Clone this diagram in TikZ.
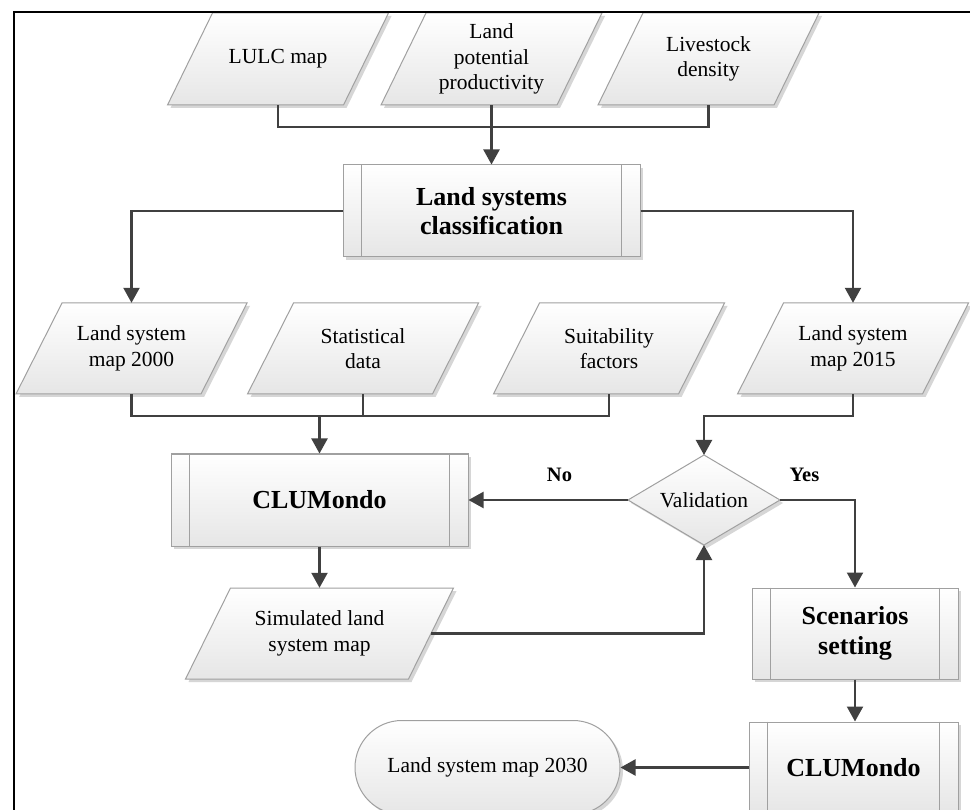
\documentclass[tikz,border=0pt]{standalone}
\usepackage{fontspec}
\setmainfont{Liberation Serif}
\usetikzlibrary{arrows.meta,shapes.geometric,calc}
\definecolor{linec}{HTML}{404040}
\definecolor{bordc}{HTML}{A0A0A0}
\definecolor{shadc}{HTML}{D6D6D6}
\definecolor{fillb}{HTML}{E6E6E6}
\tikzset{
  conn/.style={draw=linec, line width=2.2pt},
  arr/.style={conn, -{Triangle[length=15pt,width=16pt]}},
  shapefill/.style={top color=white, bottom color=fillb, draw=bordc, line width=1pt},
  shadowfill/.style={fill=shadc},
  txt/.style={inner sep=0pt, align=center, font=\fontsize{21.5}{25.5}\selectfont},
  btxt/.style={inner sep=0pt, align=center, font=\fontsize{26}{29.5}\selectfont\bfseries},
  ltxt/.style={inner sep=0pt, font=\fontsize{20.5}{24}\selectfont\bfseries},
}
\newcommand\DataBox[7]{%
  \path[shadowfill, shift={(3,3)}] ({#2-#4/2+#6/2},{#3-#5/2}) -- ({#2+#4/2+#6/2},{#3-#5/2}) -- ({#2+#4/2-#6/2},{#3+#5/2}) -- ({#2-#4/2-#6/2},{#3+#5/2}) -- cycle;
  \path[shapefill] ({#2-#4/2+#6/2},{#3-#5/2}) -- ({#2+#4/2+#6/2},{#3-#5/2}) -- ({#2+#4/2-#6/2},{#3+#5/2}) -- ({#2-#4/2-#6/2},{#3+#5/2}) -- cycle;
  \node[txt, minimum width=#4, minimum height=#5] (#1) at (#2,#3) {#7};
}
\newcommand\ProcBox[6]{%
  \fill[shadc] ({#2-#4/2+3},{#3-#5/2+3}) rectangle ({#2+#4/2+3},{#3+#5/2+3});
  \node[btxt, shapefill, minimum width=#4, minimum height=#5] (#1) at (#2,#3) {#6};
  \draw[bordc, line width=1pt] ([xshift=19pt]#1.north west) -- ([xshift=19pt]#1.south west)
    ([xshift=-19pt]#1.north east) -- ([xshift=-19pt]#1.south east);
}
\begin{document}
\begin{tikzpicture}[x=1pt,y=-1pt]
\useasboundingbox (0,0) rectangle (970,810);
\fill[white] (0,0) rectangle (970,810);

\DataBox{LULC}{278}{59}{176}{92}{45}{LULC map}
\DataBox{LPP}{491.5}{59}{176}{92}{45}{Land\\potential\\productivity}
\DataBox{LD}{708.5}{59}{176}{92}{45}{Livestock\\density}
\ProcBox{LSC}{491.5}{211}{297}{92}{Land systems\\classification}
\DataBox{M2000}{131.5}{348.5}{185}{91}{46}{Land system\\map 2000}
\DataBox{SD}{363}{348.5}{185}{91}{46}{Statistical\\data}
\DataBox{SF}{609}{348.5}{185}{91}{46}{Suitability\\factors}
\DataBox{M2015}{853}{348.5}{185}{91}{46}{Land system\\map 2015}
\ProcBox{CLU1}{319.5}{500}{297}{92}{CLUMondo}

\fill[shadc] (707,458) -- (783,503) -- (707,548) -- (631,503) -- cycle;
\path[shapefill] (704,455) -- (780,500) -- (704,545) -- (628,500) -- cycle;
\node[txt, minimum width=152, minimum height=90, outer sep=0pt] (VAL) at (704,500) {Validation};

\DataBox{SIM}{319.5}{633.5}{223}{91}{45}{Simulated land\\system map}
\ProcBox{SCN}{855}{633.5}{206}{91}{Scenarios\\setting}
\ProcBox{CLU2}{853.5}{767.5}{209}{91}{CLUMondo}

\fill[shadc, rounded corners=47] (358,723.5) rectangle (623,817.5);
\node[shapefill, txt, rectangle, rounded corners=47, minimum width=265, minimum height=94] (OUT) at (487.5,767.5) {Land system map 2030};

\coordinate (j1) at (491.5,127);
\coordinate (j2) at (319.5,416);

\draw[conn] (LULC.south) |- (j1) -| (LD.south);
\draw[arr] (LPP.south) -- (LSC.north);
\draw[arr] (LSC.west) -| (M2000.north);
\draw[arr] (LSC.east) -| (M2015.north);
\draw[conn] (M2000.south) |- (j2) -| (SF.south);
\draw[conn] (SD.south) -- (SD.south |- j2);
\draw[arr] (j2) -- (CLU1.north);
\draw[arr] (M2015.south) -- ++(0,22) -| (VAL.north);
\draw[arr] (VAL.west) -- (CLU1.east);
\draw[arr] (VAL.east) -| (SCN.north);
\draw[arr] (CLU1.south) -- (SIM.north);
\draw[arr] (SIM.east) -| (VAL.south);
\draw[arr] (SCN.south) -- (SCN.south |- CLU2.north);
\draw[arr] (CLU2.west) -- (OUT.east);

\node[ltxt] (no) at (559.5,475) {No};
\node[ltxt] (yes) at (804.5,475) {Yes};

\draw[line width=2.5pt, black] (14,830) -- (14,12) -- (990,12);
\end{tikzpicture}
\end{document}
